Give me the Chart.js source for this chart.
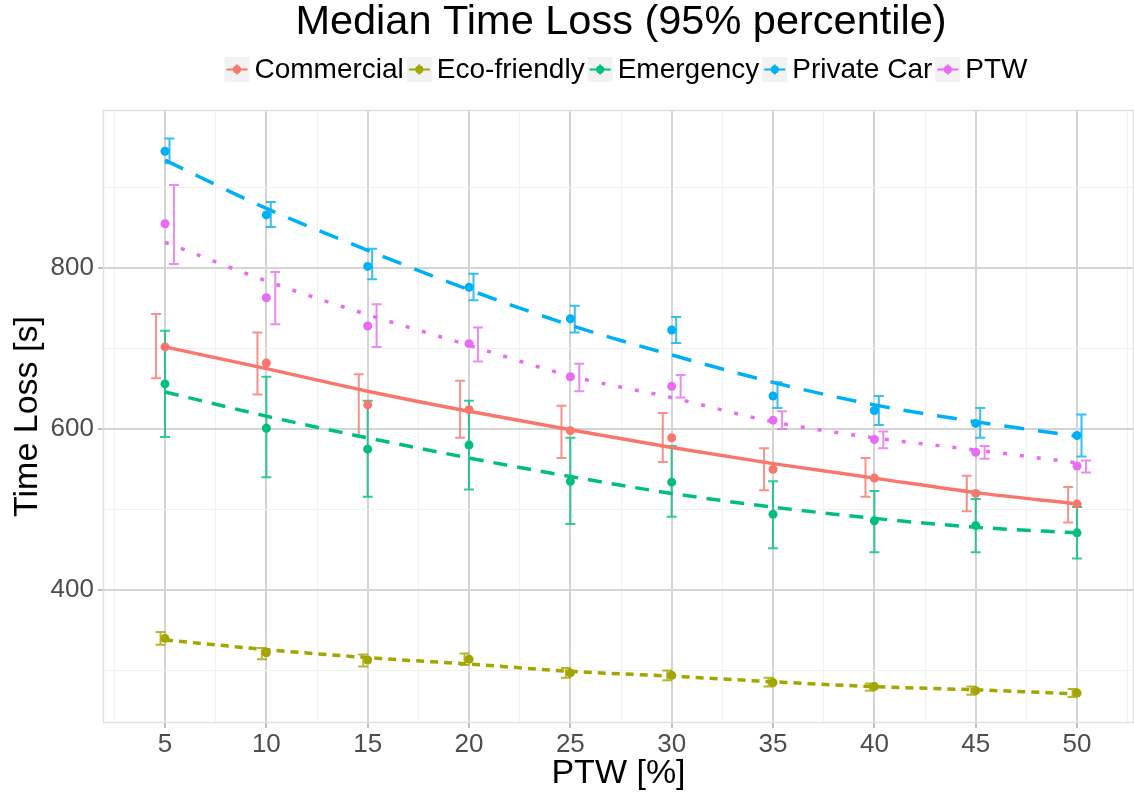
<!DOCTYPE html>
<html lang="en">
  <head>
    <meta charset="UTF-8" />
    <title>Median Time Loss (95% percentile)</title>
    <script src="https://cdn.jsdelivr.net/npm/chart.js@4.4.1/dist/chart.umd.min.js"></script>
    <style>
      html, body { margin: 0; padding: 0; background: #fff; }
      #wrap { width: 1134px; height: 796px; }
    </style>
  </head>
  <body>
    <div id="wrap"><canvas id="myChart" width="1134" height="796"></canvas></div>

    <script>
      // values
      const ptw = [5, 10, 15, 20, 25, 30, 35, 40, 45, 50];
      const seriesNames = ['Commercial', 'Eco-friendly', 'Emergency', 'Private Car', 'PTW'];
      const seriesColors = ['#F8766D', '#A3A500', '#00BF7D', '#00B0F6', '#E76BF3'];

      const commercialMedian = [702, 682, 630, 624, 598, 589, 550, 539, 520, 507];
      const commercialLow = [663, 643, 591, 589, 564, 559, 524, 516, 498, 484];
      const commercialHigh = [743, 720, 668, 660, 629, 620, 576, 564, 542, 528];
      const commercialFit = [702, 675, 647, 622, 599, 577, 557, 539, 521, 507];

      const ecoMedian = [340, 322, 313, 314, 297, 294, 285, 280, 275, 272];
      const ecoLow = [332, 314, 305, 307, 291, 288, 280, 275, 270, 267];
      const ecoHigh = [348, 328, 320, 321, 303, 300, 291, 284, 280, 277];
      const ecoFit = [338, 326, 316, 308, 299, 293, 286, 280, 276, 271];

      const emergencyMedian = [656, 601, 575, 580, 535, 534, 494, 486, 480, 471];
      const emergencyLow = [590, 540, 516, 525, 482, 491, 452, 447, 447, 439];
      const emergencyHigh = [722, 665, 635, 635, 589, 579, 535, 523, 513, 503];
      const emergencyFit = [646, 616, 589, 564, 541, 520, 503, 489, 478, 471];

      const privateMedian = [945, 866, 802, 776, 737, 723, 641, 623, 607, 592];
      const privateLow = [930, 851, 786, 760, 720, 707, 626, 605, 589, 566];
      const privateHigh = [961, 882, 824, 793, 753, 739, 658, 641, 626, 618];
      const privateFit = [934, 874, 822, 773, 729, 692, 658, 630, 609, 591];

      const ptwMedian = [855, 763, 728, 706, 665, 653, 611, 587, 571, 554];
      const ptwLow = [805, 730, 702, 684, 647, 639, 600, 576, 563, 546];
      const ptwHigh = [903, 795, 755, 726, 681, 667, 622, 597, 579, 561];
      const ptwFit = [832, 784, 742, 704, 666, 639, 609, 589, 574, 558];

      const xMajor = [5, 10, 15, 20, 25, 30, 35, 40, 45, 50];
      const xMinor = [2.5, 7.5, 12.5, 17.5, 22.5, 27.5, 32.5, 37.5, 42.5, 47.5, 52.5];
      const yMajor = [400, 600, 800];
      const yMinor = [300, 500, 700, 900];

      const medians = [commercialMedian, ecoMedian, emergencyMedian, privateMedian, ptwMedian];
      const lows = [commercialLow, ecoLow, emergencyLow, privateLow, ptwLow];
      const highs = [commercialHigh, ecoHigh, emergencyHigh, privateHigh, ptwHigh];
      const fits = [commercialFit, ecoFit, emergencyFit, privateFit, ptwFit];
      const dashes = [[], [8, 6], [14, 10], [20, 14], [4, 13]];
      // error bars are dodged sideways a little, like position_dodge in ggplot
      const dodge = [-0.44, -0.22, 0, 0.22, 0.44];

      const FONT = '"Liberation Sans", Arial, sans-serif';

      function hexA(hex, a) {
        const n = parseInt(hex.slice(1), 16);
        return `rgba(${(n >> 16) & 255}, ${(n >> 8) & 255}, ${n & 255}, ${a})`;
      }

      const datasets = [];
      seriesNames.forEach((name, i) => {
        datasets.push({
          label: name + ' fit',
          data: ptw.map((x, j) => ({ x: x, y: fits[i][j] })),
          showLine: true,
          borderColor: seriesColors[i],
          borderWidth: 3.5,
          borderDash: dashes[i],
          cubicInterpolationMode: 'monotone',
          pointRadius: 0,
          order: 2
        });
        datasets.push({
          label: name,
          data: ptw.map((x, j) => ({ x: x, y: medians[i][j] })),
          showLine: false,
          backgroundColor: seriesColors[i],
          borderWidth: 0,
          pointRadius: 4.5,
          order: 1
        });
      });

      const errorBars = {
        id: 'errorBars',
        beforeDatasetsDraw(chart) {
          const { ctx, chartArea: a, scales: { x, y } } = chart;
          ctx.save();
          // panel border
          ctx.strokeStyle = '#e0e0e0';
          ctx.lineWidth = 1.5;
          ctx.strokeRect(a.left + 0.5, a.top + 0.5, a.right - a.left - 1, a.bottom - a.top - 1);
          ctx.lineWidth = 2;
          seriesNames.forEach((name, i) => {
            ctx.strokeStyle = hexA(seriesColors[i], 0.8);
            ptw.forEach((v, j) => {
              const px = x.getPixelForValue(v + dodge[i]);
              const top = y.getPixelForValue(highs[i][j]);
              const bot = y.getPixelForValue(lows[i][j]);
              ctx.beginPath();
              ctx.moveTo(px, top); ctx.lineTo(px, bot);
              ctx.moveTo(px - 5, top); ctx.lineTo(px + 5, top);
              ctx.moveTo(px - 5, bot); ctx.lineTo(px + 5, bot);
              ctx.stroke();
            });
          });
          ctx.restore();
        }
      };

      const titleAndLegend = {
        id: 'titleAndLegend',
        afterDraw(chart) {
          const { ctx } = chart;
          ctx.save();
          ctx.fillStyle = '#000';
          ctx.textBaseline = 'alphabetic';
          ctx.textAlign = 'center';
          ctx.font = '41.5px ' + FONT;
          ctx.fillText('Median Time Loss (95% percentile)', 621, 34);

          ctx.font = '28px ' + FONT;
          ctx.textAlign = 'left';
          const key = 25, gapIn = 5, gapOut = 3;
          const widths = seriesNames.map(n => ctx.measureText(n).width);
          const total = widths.reduce((s, w) => s + key + gapIn + w + gapOut, 0) - gapOut;
          let cx = 626 - total / 2;
          seriesNames.forEach((n, i) => {
            ctx.fillStyle = '#f2f2f2';
            ctx.fillRect(cx, 57, key, key);
            const mx = cx + key / 2, my = 57 + key / 2;
            ctx.strokeStyle = seriesColors[i];
            ctx.lineWidth = 2;
            ctx.beginPath();
            ctx.moveTo(cx + 2, my); ctx.lineTo(cx + key - 2, my);
            ctx.moveTo(mx, my - 5); ctx.lineTo(mx, my + 5);
            ctx.stroke();
            ctx.fillStyle = seriesColors[i];
            ctx.beginPath();
            ctx.arc(mx, my, 4, 0, Math.PI * 2);
            ctx.fill();
            ctx.fillStyle = '#000';
            ctx.fillText(n, cx + key + gapIn, 78);
            cx += key + gapIn + widths[i] + gapOut;
          });
          ctx.restore();
        }
      };

      const ctx = document.getElementById('myChart').getContext('2d');
      const myChart = new Chart(ctx, {
        type: 'scatter',
        data: { datasets: datasets },
        plugins: [errorBars, titleAndLegend],
        options: {
          responsive: false,
          animation: false,
          layout: { autoPadding: false, padding: { top: 110, left: 0, right: 0, bottom: 0 } },
          plugins: {
            legend: { display: false },
            title: { display: false },
            tooltip: { enabled: false }
          },
          scales: {
            x: {
              type: 'linear',
              min: 1.94,
              max: 52.81,
              afterBuildTicks: s => {
                s.ticks = xMinor.concat(xMajor).sort((p, q) => p - q).map(v => ({ value: v }));
              },
              afterFit: s => {
                s.height = 73;
                s.paddingLeft = 0;
                s.paddingRight = 0;
              },
              ticks: {
                autoSkip: false,
                maxRotation: 0,
                padding: 1,
                color: '#4d4d4d',
                font: { family: FONT, size: 26 },
                callback: v => (xMajor.includes(v) ? String(v) : '')
              },
              grid: {
                color: c => (xMajor.includes(c.tick.value) ? '#d4d4d4' : '#f1f1f1'),
                lineWidth: c => (xMajor.includes(c.tick.value) ? 2 : 1),
                tickColor: c => (xMajor.includes(c.tick.value) ? '#bdbdbd' : 'rgba(0,0,0,0)'),
                tickLength: 5
              },
              border: { display: false },
              title: {
                display: true,
                text: 'PTW [%]',
                color: '#000',
                font: { family: FONT, size: 34 },
                padding: { top: 0, bottom: 2 }
              }
            },
            y: {
              type: 'linear',
              min: 234.8,
              max: 996.3,
              afterBuildTicks: s => {
                s.ticks = yMinor.concat(yMajor).sort((p, q) => p - q).map(v => ({ value: v }));
              },
              afterFit: s => {
                s.width = 103;
                s.paddingTop = 0;
                s.paddingBottom = 0;
              },
              ticks: {
                autoSkip: false,
                padding: 4,
                color: '#4d4d4d',
                font: { family: FONT, size: 26 },
                callback: v => (yMajor.includes(v) ? String(v) : '')
              },
              grid: {
                color: c => (yMajor.includes(c.tick.value) ? '#d4d4d4' : '#f1f1f1'),
                lineWidth: c => (yMajor.includes(c.tick.value) ? 2 : 1),
                tickColor: c => (yMajor.includes(c.tick.value) ? '#bdbdbd' : 'rgba(0,0,0,0)'),
                tickLength: 5
              },
              border: { display: false },
              title: {
                display: true,
                text: 'Time Loss [s]',
                color: '#000',
                font: { family: FONT, size: 34 },
                padding: { top: 7, bottom: 0 }
              }
            }
          }
        }
      });
    </script>
  </body>
</html>
